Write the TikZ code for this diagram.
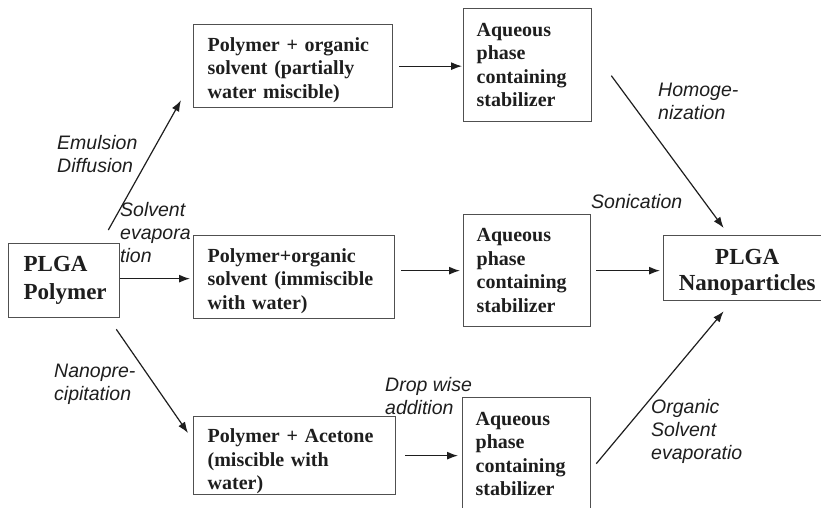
\documentclass[tikz,border=0pt]{standalone}
\usepackage{fontspec}
\setmainfont{Liberation Serif}
\newfontfamily\labelfont{Liberation Sans}
\usetikzlibrary{arrows.meta, positioning, calc}

\definecolor{inkgray}{RGB}{30,30,30}
\definecolor{boxgray}{RGB}{80,80,80}

\newcommand{\lift}[1]{\rule{0pt}{#1pt}}

\tikzset{
  stepbox/.style={draw=boxgray, line width=1.3pt, anchor=north west, align=left,
    inner ysep=0pt, text=inkgray,
    font=\fontsize{20}{23.5}\selectfont\bfseries},
  methodlabel/.style={anchor=base west, inner sep=0pt, align=left, text=inkgray,
    font=\labelfont\itshape\fontsize{19.5}{23}\selectfont},
  arr/.style={draw=inkgray, line width=1.2pt, -{Latex[length=11pt,width=8pt]}}
}

\begin{document}
\begin{tikzpicture}[x=1pt,y=1pt,yscale=-1,xscale=1]
  \useasboundingbox (0,0) rectangle (821,508);

  % Start box
  \node [stepbox, text width=81pt, inner xsep=15pt, minimum height=74pt,
    font=\fontsize{23}{28}\selectfont\bfseries] (plga) at (8,243) {PLGA\\Polymer};

  % Polymer solutions
  \node [stepbox, text width=171pt, inner xsep=14pt, minimum height=83pt] (a1) at (193,24)
    {\lift{21.5}Polymer + organic\\solvent (partially\\water miscible)};
  \node [stepbox, text width=173pt, inner xsep=14pt, minimum height=83pt] (a2) at (193,235)
    {\lift{21.5}Polymer+organic\\solvent (immiscible\\with water)};
  \node [stepbox, text width=174pt, inner xsep=14pt, minimum height=78pt] (a3) at (193,416)
    {\lift{25.5}Polymer + Acetone\\(miscible with\\water)};

  % Aqueous phases
  \node [stepbox, text width=102pt, inner xsep=13pt, minimum height=113pt] (b1) at (463,8)
    {Aqueous\\phase\\containing\\stabilizer};
  \node [stepbox, text width=101pt, inner xsep=13pt, minimum height=112pt] (b2) at (463,214)
    {Aqueous\\phase\\containing\\stabilizer};
  \node [stepbox, text width=102pt, inner xsep=13pt, minimum height=113pt] (b3) at (462,397)
    {Aqueous\\phase\\containing\\stabilizer};

  % End box
  \node [stepbox, align=center, text width=167pt, inner xsep=0pt, minimum height=65pt,
    font=\fontsize{23}{26}\selectfont\bfseries] (nano) at (663,235) {\lift{23}PLGA\\Nanoparticles};

  % Arrows
  \draw [arr] ($(plga.north east)+(-12,-13)$) -- ($(a1.south west)+(-12,-8)$);
  \draw [arr] ($(plga.east)+(0,-2)$) -- ($(plga.east -| a2.west)+(-3,-2)$);
  \draw [arr] ($(plga.south east)+(-4,11)$) -- ($(a3.north west)+(-5,17)$);
  \draw [arr, shorten <=6pt, shorten >=1pt] (a1.east) -- (a1.east -| b1.west);
  \draw [arr, shorten <=6pt, shorten >=3pt] (b2.west -| a2.east) -- (b2.west);
  \draw [arr, shorten <=9pt, shorten >=4pt] (a3.east) -- (a3.east -| b3.west);
  \draw [arr, shorten <=5pt, shorten >=3pt] (b2.east) -- (b2.east -| nano.west);
  \draw [arr] ($(b1.east)+(19,10.5)$) -- ($(nano.north)+(-23.5,-7)$);
  \draw [arr] ($(b3.east)+(5,9.5)$) -- ($(nano.south)+(-23.5,10)$);

  % Method labels (base = last line)
  \node [methodlabel] (lemul) at (57,172) {Emulsion\\Diffusion};
  \node [methodlabel] (lsolv) at (120,262) {Solvent\\evapora\\tion};
  \node [methodlabel] (lnano) at (54,400) {Nanopre-\\cipitation};
  \node [methodlabel] (lhomo) at (658,120) {Homoge-\\nization};
  \node [methodlabel] (lsoni) at (591,208) {Sonication};
  \node [methodlabel] (ldrop) at (385,414) {Drop wise\\addition};
  \node [methodlabel] (lorg) at (651,459) {Organic\\Solvent\\evaporatio};
\end{tikzpicture}
\end{document}
